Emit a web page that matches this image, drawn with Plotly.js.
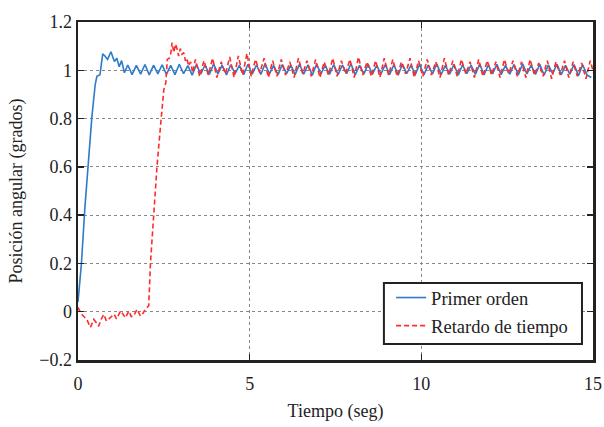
<!DOCTYPE html>
<html>
<head>
<meta charset="utf-8">
<script src="https://cdn.plot.ly/plotly-3.0.1.min.js"></script>
<style>html,body{margin:0;padding:0;background:#fff;}</style>
</head>
<body>
<div id="chart" style="width:604px;height:427px;"></div>
<script>
// ---- Data ----
var seriesNames = ["Primer orden", "Retardo de tiempo"];

// Primer orden: transient (explicit times)
var blueTransT = [0, 0.1, 0.2, 0.3, 0.4, 0.5, 0.55, 0.64, 0.72, 0.79, 0.86, 0.96, 1.06, 1.13, 1.2, 1.27, 1.35];
var blueTransY = [0.04, 0.2, 0.43, 0.63, 0.8, 0.94, 0.975, 0.982, 1.068, 1.058, 1.045, 1.077, 1.036, 1.05, 1.015, 1.04, 0.99];
// Primer orden: steady oscillation, sampled every 0.125 s from t = 1.45
var blueSteadyStart = 1.45, blueSteadyStep = 0.125;
var blueSteadyY = [
 1.022, 0.982, 1.02, 0.984, 1.024, 0.981, 1.021, 0.985, 1.023, 0.983,
 1.02, 0.982, 1.025, 0.986, 1.019, 0.98, 1.024, 0.984, 1.022, 0.983,
 1.026, 0.985, 1.021, 0.981, 1.023, 0.986, 1.02, 0.982, 1.025, 0.984,
 1.022, 0.983, 1.027, 0.985, 1.02, 0.981, 1.024, 0.986, 1.021, 0.982,
 1.025, 0.984, 1.023, 0.98, 1.026, 0.985, 1.02, 0.983, 1.024, 0.982,
 1.022, 0.986, 1.027, 0.981, 1.021, 0.984, 1.025, 0.983, 1.02, 0.985,
 1.024, 0.982, 1.023, 0.98, 1.026, 0.986, 1.021, 0.983, 1.025, 0.981,
 1.022, 0.985, 1.027, 0.982, 1.02, 0.984, 1.024, 0.98, 1.023, 0.986,
 1.021, 0.983, 1.026, 0.981, 1.022, 0.985, 1.025, 0.982, 1.02, 0.984,
 1.024, 0.981, 1.027, 0.985, 1.021, 0.983, 1.025, 0.98, 1.022, 0.986,
 1.026, 0.982, 1.02, 0.984, 1.024, 0.978, 1.023, 0.981, 0.97
];

// Retardo de tiempo: transient (explicit times)
var redTransT = [0, 0.1, 0.17, 0.25, 0.36, 0.46, 0.53, 0.6, 0.68, 0.75, 0.83, 0.95, 1.05, 1.12, 1.24, 1.31, 1.38, 1.48, 1.55, 1.62, 1.72, 1.82, 1.9, 1.96, 2.06, 2.11, 2.19, 2.3, 2.41, 2.5, 2.56, 2.6, 2.66, 2.7, 2.74, 2.79, 2.84, 2.89, 2.93, 2.98, 3.03, 3.08, 3.13, 3.17, 3.22, 3.28, 3.34];
var redTransY = [0.018, -0.01, -0.02, -0.03, -0.065, -0.032, -0.045, -0.06, -0.03, -0.011, -0.039, -0.024, -0.01, -0.03, 0.003, -0.01, -0.025, 0.003, -0.02, -0.018, 0.01, -0.018, -0.005, 0.01, 0.025, 0.2, 0.38, 0.6, 0.78, 0.92, 0.95, 1.045, 1.05, 1.068, 1.115, 1.073, 1.108, 1.087, 1.059, 1.09, 1.066, 1.073, 1.039, 1.05, 1.018, 1.035, 0.99];
// Retardo de tiempo: steady oscillation, sampled every 0.125 s from t = 3.42
var redSteadyStart = 3.42, redSteadyStep = 0.125;
var redSteadyY = [
 1.045, 0.975, 1.04, 0.98, 1.05, 0.97, 1.035, 0.985, 1.055,
 0.97, 1.06, 0.98, 1.07, 0.975, 1.045, 0.99, 1.05, 0.97,
 1.04, 0.975, 1.045, 0.98, 1.035, 0.97, 1.05, 0.985,
 1.04, 0.975, 1.045, 0.97, 1.035, 0.98, 1.05, 0.975, 1.04, 0.985,
 1.045, 0.97, 1.055, 0.98, 1.035, 0.975, 1.04, 0.97, 1.05, 0.98,
 1.045, 0.975, 1.035, 0.985, 1.05, 0.97, 1.04, 0.975, 1.045, 0.98,
 1.035, 0.97, 1.05, 0.98, 1.04, 0.975, 1.045, 0.985, 1.035, 0.97,
 1.045, 0.975, 1.04, 0.98, 1.035, 0.97, 1.045, 0.985, 1.04, 0.975,
 1.035, 0.97, 1.045, 0.98, 1.03, 0.975, 1.04, 0.965, 1.035, 0.98,
 1.04, 0.97, 1.035, 0.975, 1.03, 0.965, 1.04, 0.975
];

var xTickVals = [0, 5, 10, 15];
var yTickVals = [-0.2, 0, 0.2, 0.4, 0.6, 0.8, 1, 1.2];
var yTickText = ["\u22120.2", "0", "0.2", "0.4", "0.6", "0.8", "1", "1.2"];

// ---- Build full series ----
function build(transT, transY, start, step, steadyY) {
  var x = transT.slice(), y = transY.slice();
  for (var i = 0; i < steadyY.length; i++) { x.push(start + i * step); y.push(steadyY[i]); }
  return {x: x, y: y};
}
var blue = build(blueTransT, blueTransY, blueSteadyStart, blueSteadyStep, blueSteadyY);
var red = build(redTransT, redTransY, redSteadyStart, redSteadyStep, redSteadyY);

var font = "Liberation Serif";

var traces = [
  {x: blue.x, y: blue.y, mode: "lines", name: seriesNames[0], legendgroup: "a",
   line: {color: "#2d7bc9", width: 1.6}},
  {x: red.x, y: red.y, mode: "lines", name: seriesNames[1], legendgroup: "b",
   line: {color: "#ff2b2b", width: 1.6, dash: "5px,3px"}}
];

var axisCommon = {
  showline: true, linecolor: "#222", linewidth: 2.5, mirror: "ticks",
  ticks: "inside", ticklen: 6, tickwidth: 1.5, tickcolor: "#222",
  showgrid: true, gridcolor: "#888", griddash: "dot", gridwidth: 1,
  zeroline: false, tickfont: {family: font, size: 18, color: "#222"}
};

var layout = {
  width: 604, height: 427,
  margin: {l: 78, r: 11, t: 22, b: 67},
  paper_bgcolor: "#fff", plot_bgcolor: "#fff",
  font: {family: font, color: "#222"},
  showlegend: true,
  xaxis: Object.assign({}, axisCommon, {
    range: [0, 15], tickmode: "array", tickvals: xTickVals, ticklabelstandoff: 6,
    title: {text: "Tiempo (seg)", font: {family: font, size: 18, color: "#222"}, standoff: 12}
  }),
  yaxis: Object.assign({}, axisCommon, {
    range: [-0.2, 1.2], tickmode: "array", tickvals: yTickVals, ticktext: yTickText,
    title: {text: "Posición angular (grados)", font: {family: font, size: 18, color: "#222"}, standoff: 12}
  }),
  // legend frame (white box with dark border) drawn over the plot area
  shapes: [{
    type: "rect", xref: "paper", yref: "paper", layer: "above",
    x0: 0.594, x1: 0.9786, y0: 0.0473, y1: 0.2278,
    fillcolor: "#fff", line: {color: "#222", width: 2}
  }],
  legend: {
    x: 0.608, xanchor: "left", y: 0.2396, yanchor: "top",
    bgcolor: "rgba(0,0,0,0)", borderwidth: 0,
    font: {family: font, size: 18.5, color: "#222"},
    traceorder: "grouped", tracegroupgap: 1
  }
};

Plotly.newPlot("chart", traces, layout, {staticPlot: true, displayModeBar: false});
</script>
</body>
</html>
